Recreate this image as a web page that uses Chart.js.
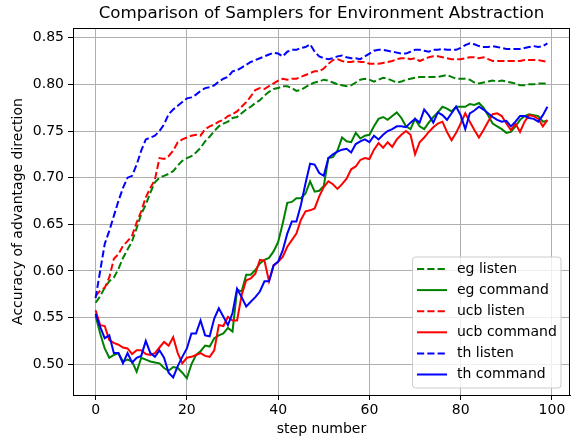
<!DOCTYPE html>
<html>
<head>
<meta charset="utf-8">
<script src="https://cdn.jsdelivr.net/npm/chart.js@4.4.1/dist/chart.umd.min.js"></script>
<style>
  html, body { margin: 0; padding: 0; background: #ffffff; }
  canvas { display: block; }
</style>
</head>
<body>
<canvas id="chart" width="572" height="438"></canvas>
<script>
// step numbers along the x axis
const steps = Array.from({ length: 100 }, (_, i) => i);

const egListen = [
  0.566, 0.573, 0.582, 0.589, 0.593, 0.602, 0.614, 0.623, 0.632, 0.646,
  0.661, 0.671, 0.684, 0.695, 0.700, 0.702, 0.704, 0.707, 0.713, 0.718,
  0.721, 0.723, 0.727, 0.732, 0.739, 0.744, 0.750, 0.755, 0.758, 0.760,
  0.764, 0.765, 0.769, 0.773, 0.776, 0.780, 0.783, 0.788, 0.792, 0.795,
  0.796, 0.798, 0.798, 0.796, 0.793, 0.794, 0.797, 0.800, 0.802, 0.803,
  0.805, 0.804, 0.802, 0.800, 0.799, 0.798, 0.799, 0.802, 0.805, 0.806,
  0.805, 0.803, 0.805, 0.807, 0.806, 0.804, 0.802, 0.803, 0.805, 0.806,
  0.807, 0.808, 0.808, 0.808, 0.808, 0.808, 0.809, 0.810, 0.808, 0.806,
  0.806, 0.806, 0.805, 0.802, 0.801, 0.802, 0.803, 0.804, 0.803, 0.804,
  0.803, 0.802, 0.801, 0.799, 0.799, 0.800, 0.800, 0.801, 0.801, 0.801,
];

const egCommand = [
  0.552, 0.533, 0.517, 0.507, 0.510, 0.512, 0.503, 0.505, 0.503, 0.492,
  0.507, 0.505, 0.503, 0.502, 0.501, 0.496, 0.493, 0.497, 0.496, 0.491,
  0.485, 0.500, 0.510, 0.514, 0.520, 0.519, 0.528, 0.531, 0.533, 0.539,
  0.535, 0.580, 0.578, 0.596, 0.596, 0.601, 0.608, 0.612, 0.614, 0.621,
  0.631, 0.651, 0.673, 0.674, 0.678, 0.678, 0.683, 0.696, 0.685, 0.686,
  0.691, 0.721, 0.722, 0.729, 0.743, 0.739, 0.738, 0.748, 0.742, 0.745,
  0.746, 0.755, 0.763, 0.765, 0.762, 0.766, 0.770, 0.764, 0.755, 0.752,
  0.763, 0.755, 0.752, 0.759, 0.765, 0.770, 0.776, 0.774, 0.771, 0.776,
  0.776, 0.776, 0.779, 0.778, 0.780, 0.775, 0.767, 0.758, 0.755, 0.752,
  0.748, 0.749, 0.755, 0.762, 0.766, 0.768, 0.767, 0.766, 0.760, 0.761,
];

const ucbListen = [
  0.573, 0.579, 0.582, 0.593, 0.613, 0.618, 0.627, 0.632, 0.638, 0.652,
  0.664, 0.679, 0.689, 0.698, 0.721, 0.720, 0.723, 0.729, 0.738, 0.741,
  0.743, 0.745, 0.746, 0.745, 0.752, 0.755, 0.757, 0.760, 0.762, 0.766,
  0.768, 0.771, 0.776, 0.781, 0.787, 0.794, 0.796, 0.795, 0.798, 0.801,
  0.804, 0.806, 0.805, 0.806, 0.806, 0.808, 0.810, 0.812, 0.814, 0.814,
  0.817, 0.822, 0.826, 0.827, 0.825, 0.824, 0.824, 0.825, 0.824, 0.824,
  0.822, 0.822, 0.822, 0.823, 0.824, 0.825, 0.827, 0.828, 0.828, 0.827,
  0.828, 0.825, 0.827, 0.829, 0.830, 0.830, 0.829, 0.828, 0.827, 0.827,
  0.827, 0.828, 0.829, 0.829, 0.828, 0.829, 0.827, 0.825, 0.825, 0.825,
  0.825, 0.825, 0.825, 0.825, 0.826, 0.826, 0.826, 0.826, 0.825, 0.824,
];

const ucbCommand = [
  0.558, 0.542, 0.541, 0.526, 0.523, 0.521, 0.518, 0.517, 0.511, 0.515,
  0.515, 0.511, 0.510, 0.512, 0.518, 0.524, 0.520, 0.529, 0.512, 0.501,
  0.507, 0.508, 0.510, 0.512, 0.509, 0.508, 0.515, 0.542, 0.541, 0.551,
  0.547, 0.547, 0.574, 0.590, 0.592, 0.597, 0.612, 0.611, 0.589, 0.606,
  0.610, 0.615, 0.626, 0.633, 0.640, 0.655, 0.664, 0.665, 0.667, 0.680,
  0.690, 0.696, 0.693, 0.688, 0.693, 0.699, 0.709, 0.712, 0.719, 0.721,
  0.720, 0.730, 0.737, 0.732, 0.738, 0.733, 0.741, 0.746, 0.750, 0.746,
  0.725, 0.738, 0.743, 0.749, 0.754, 0.758, 0.760, 0.749, 0.740, 0.748,
  0.758, 0.769, 0.760, 0.751, 0.743, 0.751, 0.760, 0.768, 0.769, 0.766,
  0.758, 0.751, 0.758, 0.749, 0.760, 0.767, 0.766, 0.763, 0.755, 0.762,
];

const thListen = [
  0.571, 0.600, 0.629, 0.643, 0.659, 0.675, 0.689, 0.700, 0.702, 0.714,
  0.729, 0.741, 0.743, 0.745, 0.750, 0.757, 0.768, 0.773, 0.777, 0.781,
  0.785, 0.786, 0.789, 0.793, 0.796, 0.797, 0.799, 0.803, 0.806, 0.808,
  0.814, 0.815, 0.818, 0.821, 0.824, 0.826, 0.828, 0.830, 0.832, 0.834,
  0.833, 0.830, 0.835, 0.837, 0.837, 0.839, 0.840, 0.843, 0.835, 0.830,
  0.828, 0.827, 0.828, 0.830, 0.831, 0.829, 0.828, 0.828, 0.827, 0.830,
  0.833, 0.836, 0.837, 0.837, 0.836, 0.835, 0.834, 0.833, 0.833, 0.835,
  0.837, 0.837, 0.836, 0.835, 0.837, 0.837, 0.838, 0.837, 0.837, 0.837,
  0.839, 0.842, 0.844, 0.843, 0.841, 0.840, 0.840, 0.841, 0.840, 0.839,
  0.838, 0.838, 0.838, 0.838, 0.839, 0.840, 0.841, 0.840, 0.841, 0.844,
];

const thCommand = [
  0.554, 0.540, 0.528, 0.531, 0.512, 0.512, 0.501, 0.512, 0.502, 0.507,
  0.509, 0.525, 0.512, 0.508, 0.515, 0.507, 0.491, 0.486, 0.498, 0.508,
  0.517, 0.533, 0.533, 0.547, 0.531, 0.530, 0.549, 0.560, 0.551, 0.542,
  0.555, 0.581, 0.572, 0.562, 0.567, 0.572, 0.578, 0.589, 0.589, 0.606,
  0.610, 0.622, 0.640, 0.653, 0.653, 0.671, 0.694, 0.715, 0.714, 0.705,
  0.702, 0.721, 0.725, 0.728, 0.730, 0.731, 0.727, 0.736, 0.739, 0.741,
  0.738, 0.745, 0.741, 0.746, 0.750, 0.752, 0.755, 0.755, 0.754, 0.759,
  0.763, 0.759, 0.773, 0.767, 0.759, 0.770, 0.767, 0.762, 0.769, 0.776,
  0.767, 0.752, 0.769, 0.772, 0.776, 0.773, 0.769, 0.765, 0.762, 0.760,
  0.761, 0.755, 0.760, 0.766, 0.766, 0.764, 0.763, 0.760, 0.767, 0.776,
];

const xTicks = [0, 20, 40, 60, 80, 100];
const yTicks = [0.50, 0.55, 0.60, 0.65, 0.70, 0.75, 0.80, 0.85];

const FONT = "'DejaVu Sans', sans-serif";
const DASH = [7.2, 3.1];

const seriesList = [
  { label: "eg listen", values: egListen, color: "#008000", dash: DASH },
  { label: "eg command", values: egCommand, color: "#008000", dash: [] },
  { label: "ucb listen", values: ucbListen, color: "#ff0000", dash: DASH },
  { label: "ucb command", values: ucbCommand, color: "#ff0000", dash: [] },
  { label: "th listen", values: thListen, color: "#0000ff", dash: DASH },
  { label: "th command", values: thCommand, color: "#0000ff", dash: [] },
];

const datasets = seriesList.map((s, i) => ({
  label: s.label,
  data: steps.map((x, j) => ({ x, y: s.values[j] })),
  borderColor: s.color,
  borderDash: s.dash,
  borderWidth: 2,
  pointRadius: 0,
  tension: 0,
  fill: false,
  order: seriesList.length - i, // later series drawn on top, like matplotlib
}));

// title, frame and the legend box, matplotlib style
const extrasPlugin = {
  id: "extras",
  afterDatasetsDraw(chart) {
    const { ctx, chartArea: a } = chart;
    ctx.save();
    ctx.strokeStyle = "#000000";
    ctx.lineWidth = 1;
    ctx.setLineDash([]);
    ctx.strokeRect(a.left + 0.5, a.top + 0.5, a.right - a.left - 1, a.bottom - a.top);
    ctx.restore();
  },
  afterDraw(chart) {
    const { ctx, chartArea: a } = chart;
    ctx.save();
    ctx.fillStyle = "#000000";
    ctx.font = `16.7px ${FONT}`;
    ctx.textAlign = "center";
    ctx.textBaseline = "middle";
    ctx.fillText("Comparison of Samplers for Environment Abstraction", (a.left + a.right) / 2, 14);

    // legend
    const box = { x: 412, y: 256.5, w: 148.5, h: 131, r: 3 };
    ctx.beginPath();
    ctx.roundRect(box.x + 0.5, box.y + 0.5, box.w, box.h, box.r);
    ctx.fillStyle = "rgba(255,255,255,0.8)";
    ctx.fill();
    ctx.strokeStyle = "#cccccc";
    ctx.lineWidth = 1;
    ctx.stroke();

    ctx.font = `14px ${FONT}`;
    ctx.textAlign = "left";
    seriesList.forEach((s, i) => {
      const y = 269 + i * 21.1;
      ctx.beginPath();
      ctx.setLineDash(s.dash);
      ctx.strokeStyle = s.color;
      ctx.lineWidth = 2;
      ctx.moveTo(417, y);
      ctx.lineTo(447, y);
      ctx.stroke();
      ctx.setLineDash([]);
      ctx.fillStyle = "#000000";
      ctx.fillText(s.label, 457, y);
    });
    ctx.restore();
  },
};

new Chart(document.getElementById("chart"), {
  type: "line",
  data: { datasets },
  options: {
    responsive: false,
    animation: false,
    devicePixelRatio: 1,
    layout: { padding: { top: 28, right: 2, left: 0, bottom: 0 } },
    plugins: {
      legend: { display: false },
      title: { display: false },
      tooltip: { enabled: false },
    },
    scales: {
      x: {
        type: "linear",
        min: -4.95,
        max: 103.95,
        afterBuildTicks: (scale) => {
          scale.ticks = xTicks.map((v) => ({ value: v }));
        },
        afterFit: (scale) => {
          scale.height = 43;
        },
        ticks: {
          color: "#000000",
          font: { family: FONT, size: 14 },
          padding: 2,
          maxRotation: 0,
          callback: (v) => String(v),
        },
        grid: { color: "#b0b0b0", lineWidth: 1, tickColor: "#000000", tickLength: 5 },
        border: { color: "#000000", width: 1 },
        title: {
          display: true,
          text: "step number",
          color: "#000000",
          font: { family: FONT, size: 14 },
          padding: { top: 0, bottom: 0 },
        },
      },
      y: {
        type: "linear",
        min: 0.4671,
        max: 0.8604,
        afterBuildTicks: (scale) => {
          scale.ticks = yTicks.map((v) => ({ value: v }));
        },
        afterFit: (scale) => {
          scale.width = 73;
        },
        ticks: {
          color: "#000000",
          font: { family: FONT, size: 14 },
          padding: 4,
          callback: (v) => Number(v).toFixed(2),
        },
        grid: { color: "#b0b0b0", lineWidth: 1, tickColor: "#000000", tickLength: 5 },
        border: { color: "#000000", width: 1 },
        title: {
          display: true,
          text: "Accuracy of advantage direction",
          color: "#000000",
          font: { family: FONT, size: 14 },
          padding: { top: 10, bottom: 0 },
        },
      },
    },
  },
  plugins: [extrasPlugin],
});
</script>
</body>
</html>
